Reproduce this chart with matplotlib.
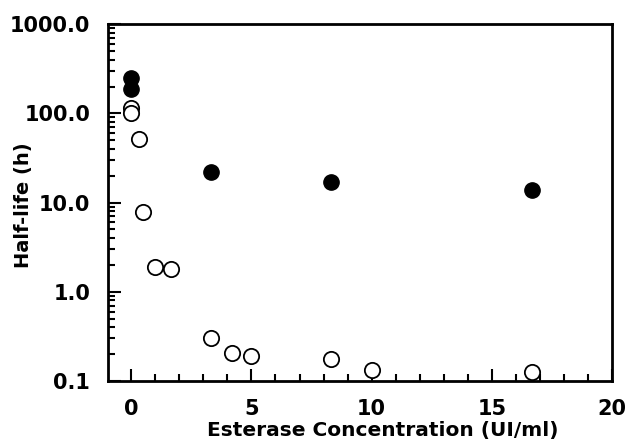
import numpy as np
import matplotlib.pyplot as plt
from matplotlib.ticker import FixedLocator, MultipleLocator, LogLocator, NullFormatter

# half-life vs esterase concentration
filled_x = [0.0, 0.0, 3.33, 8.33, 16.67]
filled_y = [248, 190, 22, 17, 14]

open_x = [0.0, 0.0, 0.33, 0.5, 1.0, 1.67, 3.33, 4.17, 5.0, 8.33, 10.0, 16.67]
open_y = [115, 100, 52, 7.8, 1.9, 1.8, 0.30, 0.205, 0.19, 0.175, 0.132, 0.126]

y_ticks = [0.1, 1.0, 10.0, 100.0, 1000.0]
y_labels = ["0.1", "1.0", "10.0", "100.0", "1000.0"]
x_ticks = [0, 5, 10, 15, 20]

plt.rcParams['font.family'] = 'DejaVu Sans'
plt.rcParams['font.weight'] = 'bold'

fig = plt.figure(figsize=(6.29, 4.40), dpi=100)
ax = fig.add_axes([0.172, 0.134, 0.801, 0.811])

ax.plot(open_x, open_y, 'o', mfc='white', mec='black', mew=1.3, ms=11, linestyle='none', clip_on=False)
ax.plot(filled_x, filled_y, 'o', mfc='black', mec='black', ms=11, linestyle='none', clip_on=False)

ax.set_yscale('log')
ax.set_ylim(0.1, 1000)
ax.set_xlim(-0.96, 20)

ax.yaxis.set_major_locator(FixedLocator(y_ticks))
ax.set_yticklabels(y_labels)
ax.yaxis.set_minor_locator(LogLocator(base=10, subs=np.arange(2, 10)))
ax.yaxis.set_minor_formatter(NullFormatter())
ax.xaxis.set_major_locator(FixedLocator(x_ticks))
ax.xaxis.set_minor_locator(MultipleLocator(1))

for s in ax.spines.values():
    s.set_linewidth(2)

ax.tick_params(which='both', direction='in', top=False, right=False, width=1.5)
ax.tick_params(which='major', length=9, labelsize=15)
ax.tick_params(which='minor', length=5)
ax.tick_params(axis='x', which='major', pad=13)
ax.tick_params(axis='y', which='major', pad=13)

ax.set_xlabel('Esterase Concentration (UI/ml)', fontsize=14.5, fontweight='bold')
ax.set_ylabel('Half-life (h)', fontsize=14, fontweight='bold')
ax.xaxis.set_label_coords(0.544, -0.112)
ax.yaxis.set_label_coords(-0.149, 0.493)

plt.savefig('out.png', dpi=100)
